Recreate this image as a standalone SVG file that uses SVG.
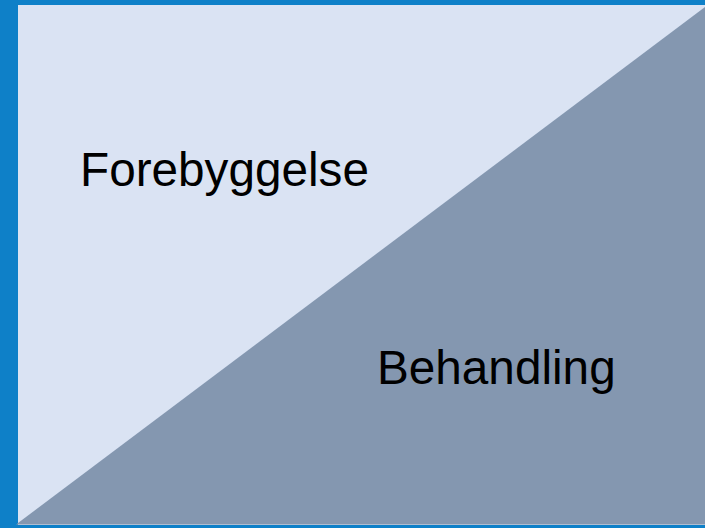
<svg xmlns="http://www.w3.org/2000/svg" width="705" height="528" viewBox="0 0 705 528">
<style>
.lbl{font-family:"Liberation Sans",Arial,sans-serif;font-size:47.7px;fill:#000}
</style>
<rect x="0" y="0" width="705" height="528" fill="#0E80C8"/>
<g id="upper">
<rect x="18" y="5" width="687" height="520" fill="#DAE3F3"/>
<text class="lbl" x="80" y="186" textLength="289" lengthAdjust="spacingAndGlyphs">Forebyggelse</text>
</g>
<g id="lower">
<polygon points="16,524.5 705,524.5 705,7" fill="#8497B0"/>
<text class="lbl" x="377" y="384">Behandling</text>
</g>
</svg>
